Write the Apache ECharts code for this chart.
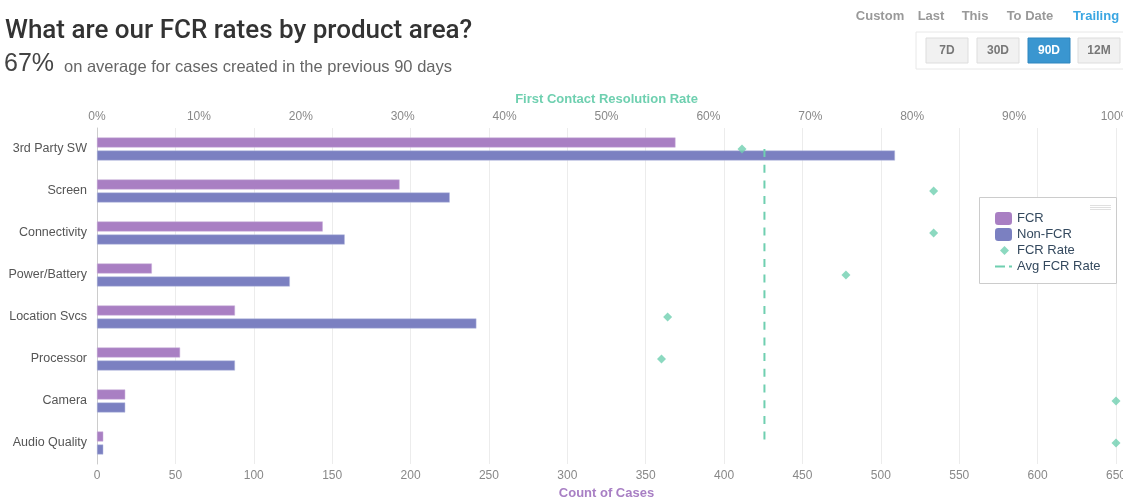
<!DOCTYPE html>
<html>
<head>
<meta charset="utf-8">
<script src="https://cdn.jsdelivr.net/npm/echarts@6/dist/echarts.min.js"></script>
<style>
html,body{margin:0;padding:0;background:#fff;}
#c{width:1123px;height:498px;}
</style>
</head>
<body>
<div id="c"></div>
<script>
const categories = ['3rd Party SW','Screen','Connectivity','Power/Battery','Location Svcs','Processor','Camera','Audio Quality'];
const fcrCounts = [369, 193, 144, 35, 88, 53, 18, 4];
const nonFcrCounts = [509, 225, 158, 123, 242, 88, 18, 4];
const fcrRates = [63.3, 82.1, 82.1, 73.5, 56.0, 55.4, 100, 100];
const avgFcrRate = 65.5;
const countTicks = {min: 0, max: 650, interval: 50};
const rateTicks = {min: 0, max: 100, interval: 10};

const FONT = '"Helvetica Neue", Helvetica, "Liberation Sans", Arial, sans-serif';
const chart = echarts.init(document.getElementById('c'));

function btn(x, label, active) {
  return [
    {type:'rect', shape:{x:x, y:38, width:42, height:25}, style:{fill: active ? '#3a96d0' : '#f1f1f1', stroke: active ? '#2f86bf' : '#dddddd', lineWidth:1}, z:5},
    {type:'text', x:x+21, y:51, style:{text:label, fill: active ? '#ffffff' : '#777777', font:'bold 12px ' + FONT, textAlign:'center', textVerticalAlign:'middle'}, z:6}
  ];
}

const graphics = [
  {type:'text', x:5, y:31, style:{text:'What are our FCR rates by product area?', fill:'#333333', font:'500 26px Roboto, ' + FONT, textVerticalAlign:'middle'}},
  {type:'text', x:4, y:64, style:{text:'67%', fill:'#444444', font:'300 25px ' + FONT, textVerticalAlign:'middle'}},
  {type:'text', x:64, y:67, style:{text:'on average for cases created in the previous 90 days', fill:'#666666', font:'16.5px ' + FONT, textVerticalAlign:'middle'}},
  {type:'text', x:880, y:16, style:{text:'Custom', fill:'#999999', font:'bold 13px ' + FONT, textAlign:'center', textVerticalAlign:'middle'}},
  {type:'text', x:931, y:16, style:{text:'Last', fill:'#999999', font:'bold 13px ' + FONT, textAlign:'center', textVerticalAlign:'middle'}},
  {type:'text', x:975, y:16, style:{text:'This', fill:'#999999', font:'bold 13px ' + FONT, textAlign:'center', textVerticalAlign:'middle'}},
  {type:'text', x:1030, y:16, style:{text:'To Date', fill:'#999999', font:'bold 13px ' + FONT, textAlign:'center', textVerticalAlign:'middle'}},
  {type:'text', x:1096, y:16, style:{text:'Trailing', fill:'#3aa6e2', font:'bold 13px ' + FONT, textAlign:'center', textVerticalAlign:'middle'}},
  {type:'rect', shape:{x:916, y:32, width:212, height:37}, style:{fill:'#ffffff', stroke:'#e8e8e8', lineWidth:1}, z:4},
  ...btn(926, '7D', false), ...btn(977, '30D', false), ...btn(1028, '90D', true), ...btn(1078, '12M', false),
  {type:'rect', shape:{x:979.5, y:197.5, width:137, height:86}, style:{fill:'#ffffff', stroke:'#cccccc', lineWidth:1}, z:5},
  {type:'line', shape:{x1:1090, y1:205.5, x2:1111, y2:205.5}, style:{stroke:'#e0e0e0', lineWidth:1}, z:6},
  {type:'line', shape:{x1:1090, y1:207.5, x2:1111, y2:207.5}, style:{stroke:'#e0e0e0', lineWidth:1}, z:6},
  {type:'line', shape:{x1:1090, y1:209.5, x2:1111, y2:209.5}, style:{stroke:'#e0e0e0', lineWidth:1}, z:6}
];

const legendText = {color: '#34495e', fontSize: 13, fontFamily: FONT};

chart.setOption({
  animation: false,
  textStyle: {fontFamily: FONT},
  graphic: graphics,
  grid: {left: 97, right: 7, top: 128, bottom: 34, containLabel: false, outerBoundsMode: 'none'},
  legend: [
    {
      orient: 'vertical', left: 995, top: 212, z: 10, padding: 0,
      itemWidth: 17, itemHeight: 13, itemGap: 3,
      itemStyle: {borderWidth: 0},
      textStyle: legendText,
      data: [{name: 'FCR', icon: 'roundRect'}, {name: 'Non-FCR', icon: 'roundRect'}]
    },
    {
      orient: 'vertical', left: 1000, top: 244, z: 10, padding: 0,
      itemWidth: 9, itemHeight: 9, itemGap: 0,
      textStyle: Object.assign({}, legendText, {padding: [0, 0, 0, 3]}),
      data: [{name: 'FCR Rate', icon: 'diamond'}]
    },
    {
      orient: 'vertical', left: 995, top: 260, z: 10, padding: 0,
      itemWidth: 17, itemHeight: 2, itemGap: 0,
      itemStyle: {color: '#6fcfb0', borderWidth: 0},
      lineStyle: {width: 0},
      textStyle: legendText,
      data: [{name: 'Avg FCR Rate', icon: 'path://M0,0h10v2h-10z M14,0h3v2h-3z'}]
    }
  ],
  xAxis: [
    {
      type: 'value', position: 'bottom', min: countTicks.min, max: countTicks.max, interval: countTicks.interval,
      name: 'Count of Cases', nameLocation: 'middle', nameGap: 23,
      nameTextStyle: {color: '#a87fc4', fontWeight: 'bold', fontSize: 13},
      axisLine: {show: false}, axisTick: {show: false},
      axisLabel: {color: '#888888', fontSize: 12, margin: 6},
      splitLine: {show: true, lineStyle: {color: '#ececec'}}
    },
    {
      type: 'value', position: 'top', min: rateTicks.min, max: rateTicks.max, interval: rateTicks.interval,
      name: 'First Contact Resolution Rate', nameLocation: 'middle', nameGap: 21,
      nameTextStyle: {color: '#6fd0b0', fontWeight: 'bold', fontSize: 13},
      axisLine: {show: false}, axisTick: {show: false},
      axisLabel: {color: '#888888', fontSize: 12, margin: 5, formatter: '{value}%'},
      splitLine: {show: false}
    }
  ],
  yAxis: {
    type: 'category', data: categories, inverse: true,
    axisLine: {show: true, lineStyle: {color: '#cccccc'}},
    axisTick: {show: false},
    axisLabel: {color: '#555555', fontSize: 12.5, margin: 10},
    splitLine: {show: false}
  },
  series: [
    {
      name: 'FCR', type: 'bar', xAxisIndex: 0, data: fcrCounts, barWidth: 10, barGap: '30%',
      itemStyle: {color: '#a97fc3', borderColor: '#c9aedb', borderWidth: 0.5}
    },
    {
      name: 'Non-FCR', type: 'bar', xAxisIndex: 0, data: nonFcrCounts, barWidth: 10, barGap: '30%',
      itemStyle: {color: '#7b80c1', borderColor: '#b5b8de', borderWidth: 0.5}
    },
    {
      name: 'FCR Rate', type: 'scatter', xAxisIndex: 1, data: fcrRates, symbol: 'diamond', symbolSize: 9,
      itemStyle: {color: '#6fcfb0'}, z: 5
    },
    {
      name: 'Avg FCR Rate', type: 'line', xAxisIndex: 1, data: categories.map(() => avgFcrRate),
      symbol: 'none', lineStyle: {color: '#6fcfb0', width: 2, type: [8, 7.7]}, itemStyle: {color: '#6fcfb0'}, z: 4
    }
  ]
});
</script>
</body>
</html>
